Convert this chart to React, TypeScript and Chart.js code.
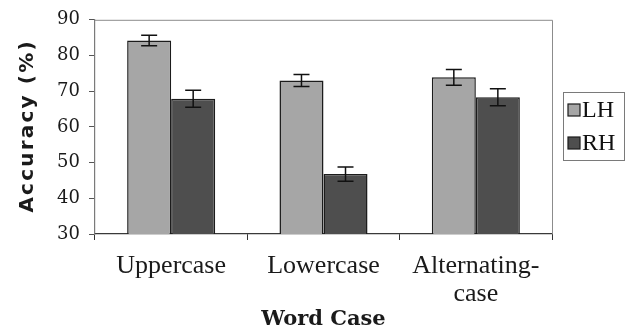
import React, { useEffect, useRef } from "react";
import { Chart, registerables } from "chart.js";

Chart.register(...registerables);

const categories: (string | string[])[] = ["Uppercase", "Lowercase", ["Alternating-", "case"]];
const seriesNames = ["LH", "RH"];
const lhValues = [84.2, 73.0, 73.9];
const rhValues = [67.9, 46.8, 68.3];
const lhErrors = [1.5, 1.7, 2.2];
const rhErrors = [2.4, 2.0, 2.4];
const yTicks = [30, 40, 50, 60, 70, 80, 90];
const xTitle = "Word Case";
const yTitle = "Accuracy (%)";

const LH_COLOR = "#a6a6a6";
const RH_COLOR = "#4e4e4e";
const BORDER = "#1c1c1c";

export default function App() {
  const ref = useRef<HTMLCanvasElement | null>(null);

  useEffect(() => {
    const canvas = ref.current;
    if (!canvas) return;
    const errors = [lhErrors, rhErrors];

    const errorBars = {
      id: "errorBars",
      afterDatasetsDraw(chart: any) {
        const ctx = chart.ctx;
        const y = chart.scales.y;
        ctx.save();
        ctx.strokeStyle = "#111";
        ctx.lineWidth = 1.5;
        chart.data.datasets.forEach((ds: any, i: number) => {
          const meta = chart.getDatasetMeta(i);
          meta.data.forEach((bar: any, j: number) => {
            const v = ds.data[j];
            const e = errors[i][j];
            const x = bar.x;
            const yt = y.getPixelForValue(v + e);
            const yb = y.getPixelForValue(v - e);
            const cap = 8;
            ctx.beginPath();
            ctx.moveTo(x, yt);
            ctx.lineTo(x, yb);
            ctx.moveTo(x - cap, yt);
            ctx.lineTo(x + cap, yt);
            ctx.moveTo(x - cap, yb);
            ctx.lineTo(x + cap, yb);
            ctx.stroke();
          });
        });
        ctx.restore();
      },
    };

    const decorations = {
      id: "decorations",
      afterDraw(chart: any) {
        const ctx = chart.ctx;
        const a = chart.chartArea;
        ctx.save();
        // top and right frame
        ctx.strokeStyle = "#8c8c8c";
        ctx.lineWidth = 1;
        ctx.beginPath();
        ctx.moveTo(a.left, a.top + 0.5);
        ctx.lineTo(a.right + 0.5, a.top + 0.5);
        ctx.lineTo(a.right + 0.5, a.bottom);
        ctx.stroke();

        // y title
        ctx.save();
        ctx.translate(27.5, (a.top + a.bottom) / 2);
        ctx.rotate(-Math.PI / 2);
        ctx.font = "bold 20px 'DejaVu Sans'";
        (ctx as any).letterSpacing = "2.2px";
        ctx.fillStyle = "#1a1a1a";
        ctx.textAlign = "center";
        ctx.textBaseline = "middle";
        ctx.fillText(yTitle, 1, 0);
        ctx.restore();

        // legend
        const lx = 563.5, ly = 92.5, lw = 61, lh = 68;
        ctx.strokeStyle = "#7a7a7a";
        ctx.lineWidth = 1;
        ctx.strokeRect(lx, ly, lw, lh);
        const colors = [LH_COLOR, RH_COLOR];
        const rows = [117, 150];
        seriesNames.forEach((name, i) => {
          const base = rows[i];
          ctx.fillStyle = colors[i];
          ctx.fillRect(568, base - 13, 12, 12);
          ctx.strokeStyle = BORDER;
          ctx.lineWidth = 1.2;
          ctx.strokeRect(568, base - 13, 12, 12);
          ctx.fillStyle = "#111";
          ctx.font = "24px 'Liberation Serif'";
          ctx.textAlign = "left";
          ctx.textBaseline = "alphabetic";
          ctx.fillText(name, 582, base);
        });
        ctx.restore();
      },
    };

    const chart = new Chart(canvas, {
      type: "bar",
      data: {
        labels: categories as any,
        datasets: [
          {
            label: seriesNames[0],
            data: lhValues,
            backgroundColor: LH_COLOR,
            borderColor: BORDER,
            borderWidth: 1.5,
            categoryPercentage: 0.578,
            barPercentage: 1,
          },
          {
            label: seriesNames[1],
            data: rhValues,
            backgroundColor: RH_COLOR,
            borderColor: BORDER,
            borderWidth: 1.5,
            categoryPercentage: 0.578,
            barPercentage: 1,
          },
        ],
      },
      options: {
        responsive: false,
        animation: false,
        devicePixelRatio: 1,
        layout: { padding: { top: 17, right: 75, left: 0, bottom: 0 } },
        plugins: {
          legend: { display: false },
          tooltip: { enabled: false },
        },
        scales: {
          x: {
            afterFit(scale: any) {
              scale.height = 96;
            },
            grid: {
              display: true,
              drawOnChartArea: false,
              drawTicks: true,
              tickLength: 6,
              color: "#333",
              offset: true,
            },
            border: { display: true, color: "#3a3a3a", width: 1.2 },
            ticks: {
              color: "#1a1a1a",
              padding: 12,
              maxRotation: 0,
              autoSkip: false,
              font: { family: "'Liberation Serif'", size: 26, lineHeight: 1.08 },
            },
            title: {
              display: true,
              text: xTitle,
              color: "#1a1a1a",
              padding: { top: 0, bottom: 0 },
              font: { family: "'DejaVu Serif'", size: 21, weight: "bold", lineHeight: 1.0 },
            },
          },
          y: {
            min: 30,
            max: 90,
            afterFit(scale: any) {
              scale.width = 95;
            },
            afterBuildTicks(scale: any) {
              scale.ticks = yTicks.map((v) => ({ value: v }));
            },
            grid: {
              display: true,
              drawOnChartArea: false,
              drawTicks: true,
              tickLength: 6,
              color: "#555",
            },
            border: { display: true, color: "#7a7a7a", width: 1.2 },
            ticks: {
              color: "#1a1a1a",
              padding: 9,
              font: { family: "'DejaVu Serif'", size: 18 },
            },
            title: { display: false },
          },
        },
      },
      plugins: [errorBars, decorations],
    } as any);

    return () => chart.destroy();
  }, []);

  return (
    <div style={{ position: "absolute", left: 0, top: 0, width: 627, height: 330, background: "#fff" }}>
      <canvas ref={ref} width={627} height={330} style={{ display: "block", width: 627, height: 330 }} />
    </div>
  );
}
